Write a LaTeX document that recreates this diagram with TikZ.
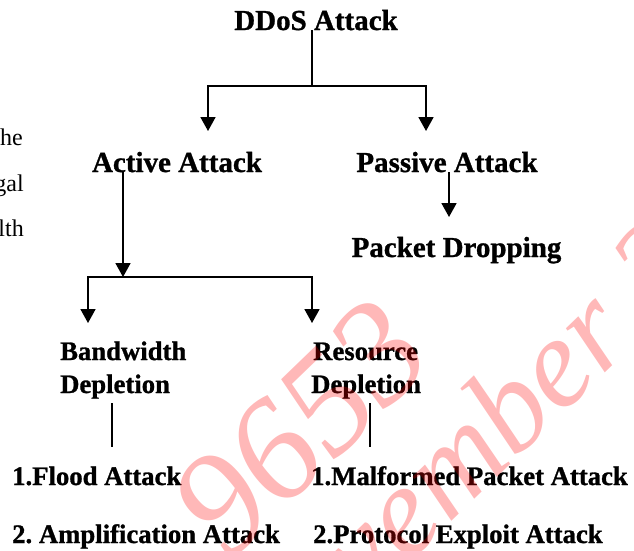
\documentclass[tikz,border=0pt]{standalone}
\usepackage{fontspec}
\setmainfont{Liberation Serif}[BoldFeatures={FakeBold=1}]
\usetikzlibrary{arrows.meta}
\begin{document}
\begin{tikzpicture}[x=1pt,y=-1pt,
  conn/.style={line width=1.8pt},
  arr/.style={conn,-{Triangle[width=15pt,length=14pt]}},
  thinline/.style={line width=1.2pt},
  big/.style={font=\fontsize{29}{33}\selectfont\bfseries, inner sep=0pt},
  small/.style={font=\fontsize{26.7}{33}\selectfont\bfseries\frenchspacing, inner sep=0pt},
  frag/.style={font=\fontsize{24}{26}\selectfont, inner sep=0pt, anchor=base east},
  wm/.style={text=red, text opacity=0.28, rotate=44, inner sep=0pt}
]
\useasboundingbox (0,0) rectangle (634,550);
\fill[white] (0,0) rectangle (634,550);

% fragments of running text at left
\node[frag] (f1) at (23,145) {he};
\node[frag] (f2) at (24,191) {gal};
\node[frag] (f3) at (24,236) {lth};

% nodes
\node[big, anchor=base] (ddos) at (316,30) {DDoS Attack};
\node[big, anchor=base] (active) at (177,172) {Active Attack};
\node[big, anchor=base] (passive) at (447,172) {Passive Attack};
\node[big, anchor=base] (drop) at (456.5,257) {Packet Dropping};

\node[small, anchor=base west] (bw1) at (60,360) {Bandwidth};
\node[small, anchor=base west] (bw2) at (60,393) {Depletion};
\node[small, anchor=base west] (rs1) at (313,360) {Resource};
\node[small, anchor=base west] (rs2) at (311,393) {Depletion};

\node[small, anchor=base west] (flood) at (12,485) {1.Flood Attack};
\node[small, anchor=base west] (amp) at (12,543) {2. Amplification Attack};
\node[small, anchor=base west] (malf) at (311,485) {1.Malformed Packet Attack};
\node[small, anchor=base west] (proto) at (313,543) {2.Protocol Exploit Attack};

% connector points
\coordinate (j1) at (312,86);
\coordinate (ta) at (208,131);
\coordinate (tp) at (426,131);
\coordinate (td) at (449,217);
\coordinate (j2) at (123,277);
\coordinate (tb) at (88,323);
\coordinate (tr) at (312,323);
\coordinate (l1a) at (112,403);
\coordinate (l1b) at (112,447);
\coordinate (l2a) at (370,403);
\coordinate (l2b) at (370,447);

% connectors
\draw[conn] (ddos.south -| j1) -- (j1);
\draw[arr] (j1) -| (ta);
\draw[arr] (j1) -| (tp);
\draw[arr] (passive.south -| td) -- (td);
\draw[arr] (active.south -| j2) -- (j2);
\draw[arr] (j2) -| (tb);
\draw[arr] (j2) -| (tr);
\draw[thinline] (l1a) -- (l1b);
\draw[thinline] (l2a) -- (l2b);

% watermark
\node[wm, font=\fontsize{146}{146}\selectfont\itshape] (w1) at (300,428) {9653};
\node[wm, font=\fontsize{128}{128}\selectfont\itshape] (w2) at (506,408) {vember 2};
\end{tikzpicture}
\end{document}
